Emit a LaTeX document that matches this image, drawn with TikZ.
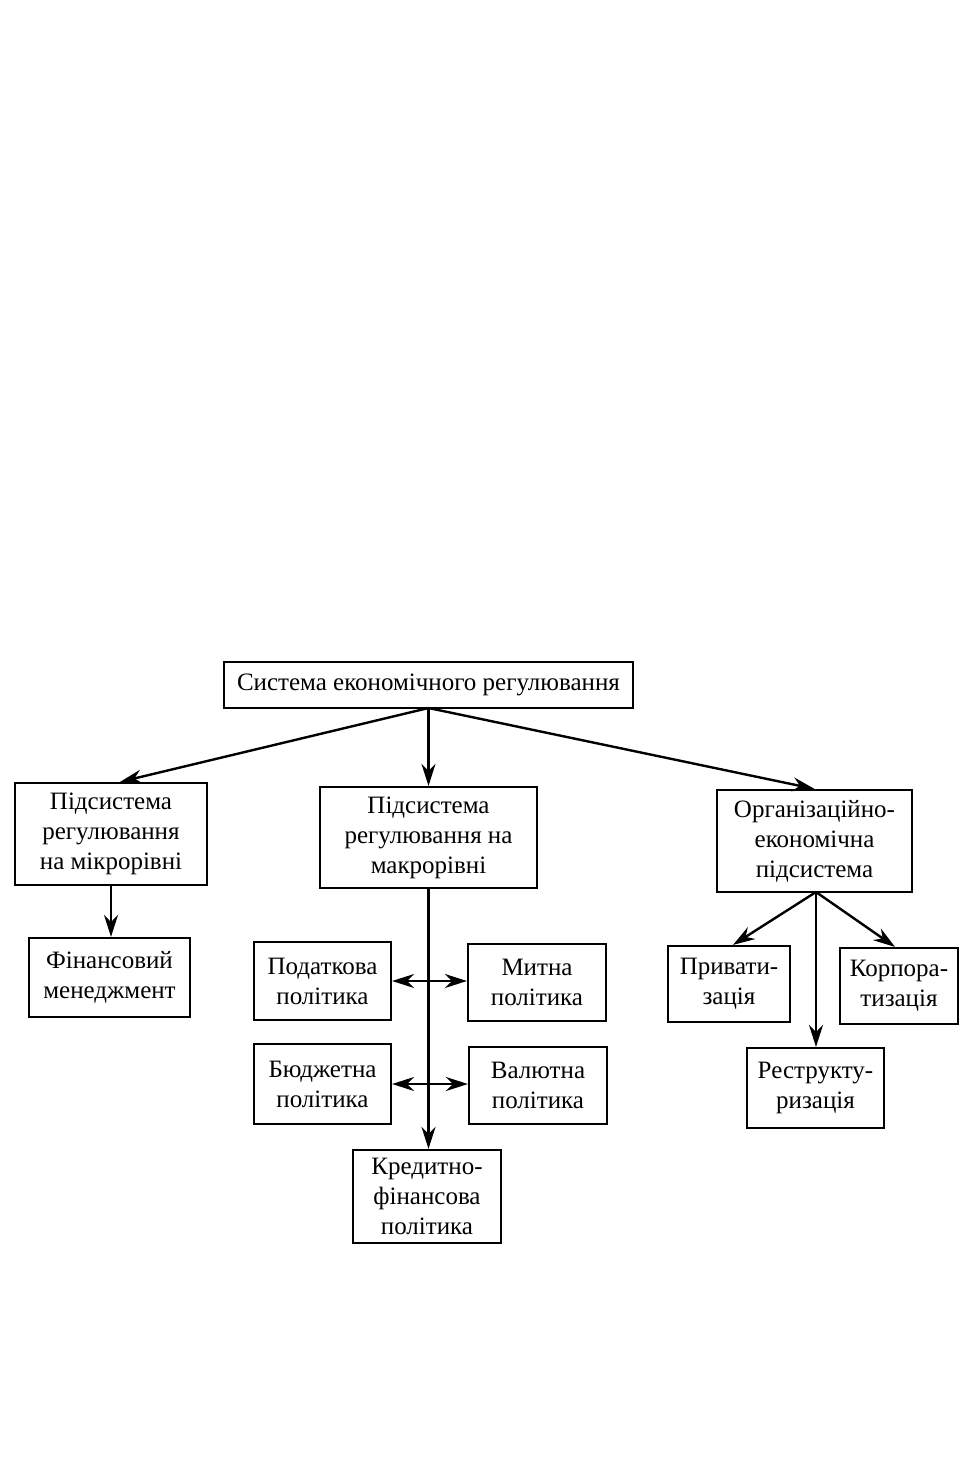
\documentclass[tikz,border=0pt]{standalone}
\usepackage{fontspec}
\setmainfont{Liberation Serif}
\usetikzlibrary{arrows.meta}
\begin{document}
\begin{tikzpicture}[x=1pt,y=-1pt,
  box/.style={draw, line width=2.2pt, inner sep=0pt, align=center, font=\fontsize{25}{30}\selectfont},
  arr/.style={line width=2.4pt, -{Stealth[length=22pt,width=14pt]}},
  darr/.style={line width=2.4pt, {Stealth[length=22pt,width=14pt]}-{Stealth[length=22pt,width=14pt]}}]
\useasboundingbox (0,0) rectangle (970,1477);
\node[box, minimum width=409pt, minimum height=46pt] (top) at (428.5,685) {Система економічного регулювання};
\node[box, minimum width=192pt, minimum height=102pt] (micro) at (111,834) {Підсистема\\регулювання\\на мікрорівні};
\node[box, minimum width=217pt, minimum height=101pt] (macro) at (428.5,837.5) {Підсистема\\регулювання на\\макрорівні};
\node[box, minimum width=195pt, minimum height=102pt] (org) at (814.5,841) {Організаційно-\\економічна\\підсистема};
\node[box, minimum width=161pt, minimum height=79pt] (fin) at (109.5,977.5) {Фінансовий\\менеджмент};
\node[box, minimum width=137pt, minimum height=78pt] (pod) at (322.5,981) {Податкова\\політика};
\node[box, minimum width=138pt, minimum height=77pt] (myt) at (537,982.5) {Митна\\політика};
\node[box, minimum width=137pt, minimum height=80pt] (bud) at (322.5,1084) {Бюджетна\\політика};
\node[box, minimum width=138pt, minimum height=77pt] (val) at (538,1085.5) {Валютна\\політика};
\node[box, minimum width=148pt, minimum height=93pt] (kred) at (427,1196.5) {Кредитно-\\фінансова\\політика};
\node[box, minimum width=122pt, minimum height=76pt] (priv) at (729,984) {Привати-\\зація};
\node[box, minimum width=118pt, minimum height=76pt] (korp) at (899,986) {Корпора-\\тизація};
\node[box, minimum width=137pt, minimum height=80pt] (restr) at (815.5,1088) {Реструкту-\\ризація};
\coordinate (topb) at (428.5,708);
\draw[arr] (topb) -- (micro.north -| 120,0);
\draw[arr] (topb) -- (macro.north);
\draw[arr] (topb) -- (org.north);
\draw[arr] (micro.south) -- (fin.north -| micro.south);
\draw[arr] (macro.south) -- (kred.north -| macro.south);
\draw[darr] (pod.east |- 0,981) -- (myt.west |- 0,981);
\draw[darr] (bud.east |- 0,1084) -- (val.west |- 0,1084);
\coordinate (orgb) at (816,892);
\draw[arr] (orgb) -- (priv.north -| 733,0);
\draw[arr] (orgb) -- (restr.north -| orgb);
\draw[arr] (orgb) -- (korp.north -| 895,0);
\end{tikzpicture}
\end{document}
